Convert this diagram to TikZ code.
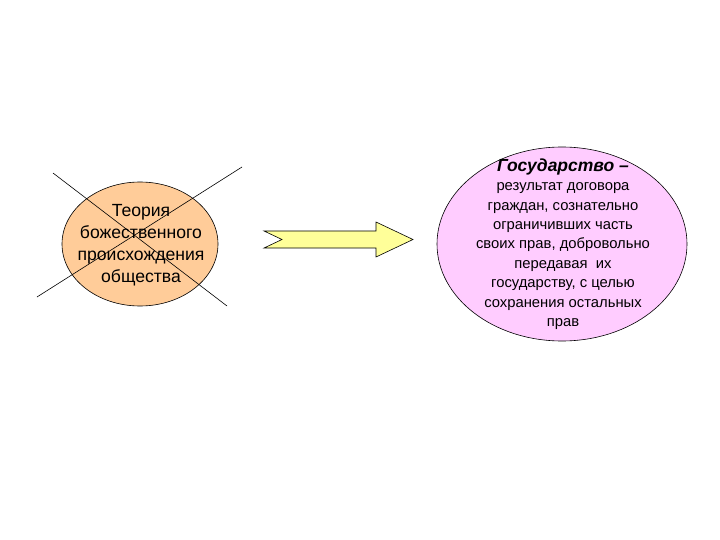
\documentclass[tikz,border=0pt]{standalone}
\usepackage{fontspec}
\setmainfont{Liberation Sans}
\usetikzlibrary{shapes.geometric}
\definecolor{peach}{HTML}{FFCC99}
\definecolor{pinkfill}{HTML}{FFCCFF}
\definecolor{arrowfill}{HTML}{FFFF99}
\tikzset{
  oval/.style={ellipse, draw=black, line width=0.6pt, inner sep=0pt, align=center},
  crossline/.style={draw=black, line width=0.6pt},
  blockarrow/.style={draw=black, line width=0.6pt, fill=arrowfill, line join=miter}
}
\begin{document}
\begin{tikzpicture}[x=1pt,y=-1pt]
\useasboundingbox (0,0) rectangle (720,540);
\fill[white] (0,0) rectangle (720,540);
% left ellipse
\node[oval, fill=peach, minimum width=156pt, minimum height=124pt] (left) at (140,244) {};
\node[align=center, font=\fontsize{17.6}{22}\selectfont] (lefttext) at (141,245)
  {Теория\\божественного\\происхождения\\общества};
% cross lines
\coordinate (c1a) at (53,173);
\coordinate (c1b) at (227,306);
\coordinate (c2a) at (242,167);
\coordinate (c2b) at (37,297);
\draw[crossline] (c1a) -- (c1b);
\draw[crossline] (c2a) -- (c2b);
% block arrow
\draw[blockarrow] (264,231) -- (376,231) -- (376,222) -- (413,239.5) -- (376,257) -- (376,248) -- (264,248) -- (282,239.5) -- cycle;
% right ellipse
\node[oval, fill=pinkfill, minimum width=250pt, minimum height=194pt] (right) at (562,244) {};
\node[align=center, font=\fontsize{14.8}{19.4}\selectfont] (righttext) at (563,244)
  {{\fontsize{17.5}{19.4}\selectfont\bfseries\itshape Государство –}\\результат договора\\граждан, сознательно\\ограничивших часть\\своих прав, добровольно\\передавая~ их\\государству, с целью\\сохранения остальных\\прав};
\end{tikzpicture}
\end{document}
